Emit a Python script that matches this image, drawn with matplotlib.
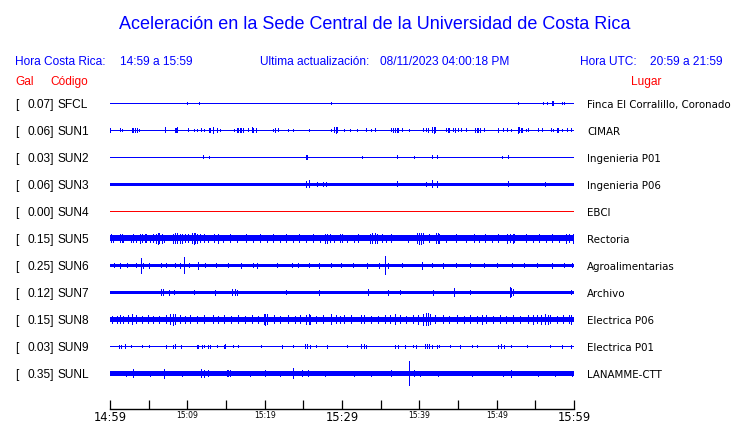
import matplotlib
matplotlib.use("Agg")
import matplotlib.pyplot as plt

# station info (top to bottom)
codes = ["SFCL", "SUN1", "SUN2", "SUN3", "SUN4", "SUN5", "SUN6", "SUN7", "SUN8", "SUN9", "SUNL"]
gal = [0.07, 0.06, 0.03, 0.06, 0.00, 0.15, 0.25, 0.12, 0.15, 0.03, 0.35]
places = ["Finca El Corralillo, Coronado", "CIMAR", "Ingenieria P01", "Ingenieria P06", "EBCI",
          "Rectoria", "Agroalimentarias", "Archivo", "Electrica P06", "Electrica P01", "LANAMME-CTT"]
# background trace half-amplitude (px)
base_amp = [0.5, 0.5, 0.5, 1.5, 0.5, 3.0, 1.4, 1.5, 2.3, 0.5, 1.7]

# (minute after 14:59, half-amplitude px) for visible bursts
sfcl = [(10.0, 1.3), (11.5, 0.8), (28.6, 0.8), (52.8, 0.8), (56.0, 0.8), (56.5, 1), (57.1, 2),
        (57.2, 2.3), (57.3, 2), (58.4, 0.8), (58.7, 1.2)]
sun1 = [(0.0, 2), (1.3, 1.5), (1.5, 1), (2.8, 2), (3.0, 2), (3.2, 2), (3.5, 2), (3.8, 1), (7.1, 2.5),
        (8.4, 2), (8.5, 2), (8.7, 2.5), (10.1, 1.5), (10.9, 1), (11.2, 1), (11.8, 1.5), (12.1, 1),
        (12.8, 2), (12.9, 2), (13.3, 3), (13.9, 2), (14.2, 1), (16.0, 1), (16.4, 2), (16.6, 2),
        (16.8, 2), (17.0, 2), (17.2, 2), (17.8, 1.5), (18.3, 2.5), (18.5, 2), (18.9, 2), (21.1, 1),
        (21.4, 2), (21.7, 1.5), (23.0, 1), (23.7, 1), (25.7, 1), (28.6, 1), (29.0, 2.5), (29.2, 3),
        (29.3, 2.5), (30.2, 1), (31.0, 0.7), (31.9, 0.7), (33.1, 1.5), (33.7, 1), (34.3, 1.5),
        (36.3, 1.5), (36.6, 2), (36.9, 2), (37.1, 2), (37.2, 2), (37.7, 1.5), (38.7, 0.7), (40.5, 1.5),
        (40.8, 1.5), (41.1, 2), (41.7, 2.5), (41.9, 3), (42.0, 2.5), (43.4, 1.5), (43.7, 2), (43.8, 2),
        (44.3, 1.5), (44.6, 2), (45.0, 1.5), (45.4, 1.5), (46.0, 1.5), (47.2, 2), (47.4, 2), (47.6, 2),
        (47.8, 2), (48.3, 1.5), (50.2, 2), (50.8, 1.5), (51.3, 1.5), (51.8, 1), (52.7, 3), (52.9, 2.5),
        (53.2, 2), (53.3, 2), (53.8, 1), (54.1, 1.5), (55.3, 1.5), (55.8, 1.5), (57.0, 1.5), (57.3, 1),
        (57.8, 2), (57.9, 2), (58.5, 1), (59.1, 1.5), (59.6, 1.5)]
sun2 = [(12.0, 1.5), (12.75, 1), (25.3, 2), (25.5, 2), (32.6, 1), (37.15, 1.5), (39.3, 1), (41.6, 1.5),
        (41.7, 1.5), (42.3, 1.5), (50.7, 1), (51.5, 1.5)]
sun3 = [(25.4, 3), (25.7, 3.5), (26.8, 2), (27.6, 2), (27.9, 2), (37.15, 2.5), (40.8, 2), (41.7, 3.5),
        (42.3, 3), (51.5, 2.5), (56.2, 2)]
sun4 = []
sun5 = [(0.1, 4), (0.4, 3.5), (1.3, 4), (1.5, 4), (1.7, 3.5), (2.7, 3.5), (3.0, 4), (3.4, 3.5), (3.9, 4.5),
        (4.2, 4), (4.5, 4), (4.7, 4), (5.2, 3.5), (5.6, 4), (6.0, 4.5), (6.2, 5.5), (6.4, 5), (6.7, 4.5),
        (7.0, 3.5), (8.2, 4.5), (8.4, 5), (8.7, 5), (9.0, 4.5), (9.3, 4.5), (9.7, 4), (10.1, 4), (10.6, 5),
        (10.8, 5.5), (11.0, 5), (11.2, 4.5), (11.6, 4), (12.1, 4), (12.7, 3.5), (13.4, 4), (14.0, 4.5),
        (14.6, 3.5), (15.5, 4), (16.4, 3.5), (17.6, 4), (18.5, 3.5), (19.4, 4), (20.3, 3.5), (21.1, 4),
        (22.0, 3.5), (22.8, 4), (23.7, 3.5), (24.5, 4), (25.4, 3.5), (26.3, 4), (27.1, 3.5), (27.8, 4.5),
        (28.1, 4.5), (28.4, 4), (29.0, 3.5), (29.7, 4), (30.0, 4), (30.6, 3.5), (31.5, 3.5), (32.1, 4),
        (33.6, 4.5), (33.9, 5), (34.3, 5), (34.5, 4.5), (35.2, 4), (35.7, 3.5), (36.3, 4), (38.5, 3.5),
        (39.7, 5), (40.0, 5.5), (40.2, 5.5), (40.5, 5), (41.2, 4), (42.2, 5), (42.4, 5), (42.6, 4.5),
        (43.4, 3.5), (44.7, 4), (46.0, 3.5), (47.1, 4), (47.7, 3.5), (48.5, 4), (49.4, 3.5), (50.2, 4),
        (51.3, 4.5), (51.7, 4), (52.1, 4.5), (52.3, 4), (53.8, 4), (54.7, 3.5), (55.5, 4), (56.4, 3.5),
        (57.2, 4), (58.0, 3.5), (59.0, 4.5), (59.4, 4), (59.9, 4.5)]
sun6 = [(0.5, 2), (1.3, 2.5), (2.2, 2), (3.3, 2), (3.96, 7.5), (4.3, 2.5), (5.1, 2.5), (6.6, 2), (7.3, 2),
        (8.4, 2), (9.1, 2.5), (9.6, 8), (10.2, 2), (11.4, 3.5), (12.3, 2), (13.7, 2), (15.2, 2), (16.9, 2.5),
        (18.5, 2), (19.0, 2.5), (21.6, 2), (23.5, 2), (24.3, 2), (25.7, 2), (27.0, 2.5), (28.6, 2), (29.9, 2),
        (31.4, 2), (33.2, 2.5), (34.8, 2.5), (35.6, 9), (36.0, 2.5), (37.8, 2), (40.3, 3.5), (41.7, 2),
        (43.0, 2.5), (44.8, 2), (46.5, 2), (48.3, 2), (50.1, 2), (52.0, 2), (53.5, 2), (55.2, 2),
        (57.2, 2.5), (58.7, 2), (59.7, 2)]
sun7 = [(6.6, 3), (6.8, 3), (7.6, 2.5), (8.3, 2), (10.9, 2), (13.6, 2.5), (15.8, 3), (16.1, 3), (16.4, 2.5),
        (22.8, 2), (27.0, 2.5), (33.3, 3), (36.0, 2.5), (37.5, 2), (41.8, 2.5), (44.5, 4), (46.5, 2),
        (51.7, 5), (51.9, 4), (52.1, 3), (59.6, 2)]
sun8 = [(0.2, 3.5), (0.9, 3.5), (1.3, 4), (1.7, 3.5), (2.3, 4), (2.9, 5), (3.4, 4), (4.2, 3.5), (4.9, 4),
        (5.5, 3.5), (6.4, 3.5), (7.3, 4), (7.8, 5), (8.1, 5.5), (8.4, 5), (9.0, 4), (9.7, 3.5), (10.4, 4),
        (11.3, 3.5), (12.2, 4), (13.3, 4), (14.0, 3.5), (14.8, 4), (15.7, 3.5), (16.6, 4), (17.5, 3.5),
        (18.3, 4), (19.1, 3.5), (19.9, 5), (20.1, 5.5), (20.3, 5), (21.2, 4), (22.0, 3.5), (23.0, 4),
        (23.9, 3.5), (24.6, 4), (25.4, 4.5), (25.7, 5), (25.9, 4.5), (26.7, 3.5), (27.5, 4), (28.6, 5),
        (29.2, 4), (29.8, 3.5), (30.3, 4), (31.2, 4), (32.5, 4), (32.9, 4), (33.8, 3.5), (34.7, 3.5),
        (35.5, 4), (36.2, 4), (36.8, 5), (37.5, 4), (38.3, 3.5), (39.2, 4), (39.8, 4.5), (40.5, 5.5),
        (40.8, 6), (41.1, 6), (41.4, 5), (42.0, 4), (43.0, 4), (43.9, 3.5), (44.9, 4), (45.8, 3.5),
        (46.6, 4), (47.4, 3.5), (48.1, 4.5), (48.6, 4), (49.5, 3.5), (50.4, 4), (51.2, 3.5), (52.1, 4),
        (53.0, 3.5), (54.0, 4), (54.7, 4.5), (55.2, 4), (55.7, 4.5), (56.2, 5), (56.6, 4.5), (56.9, 4),
        (57.8, 3.5), (58.6, 4), (59.3, 4), (59.6, 4.5)]
sun9 = [(1.1, 1.5), (1.4, 1.5), (1.9, 1.8), (2.0, 1.8), (2.7, 1.2), (4.2, 1.2), (5.1, 1.2), (7.3, 1.5),
        (8.1, 1.5), (8.4, 1.8), (9.2, 1.5), (11.2, 1.5), (11.4, 1.5), (11.9, 1.5), (12.2, 1.2), (12.7, 1.5),
        (12.9, 1.5), (13.9, 1.2), (14.7, 1.5), (14.9, 1.8), (15.9, 1.2), (16.6, 1.2), (19.5, 1.2),
        (22.3, 1.5), (23.6, 1.2), (25.2, 1.8), (25.5, 1.8), (25.8, 1.5), (26.7, 1.2), (28.0, 1.5),
        (30.7, 1.2), (32.5, 1.8), (32.8, 1.8), (33.1, 1.5), (36.9, 1.5), (37.2, 1.5), (38.1, 1.5),
        (39.2, 1.2), (39.6, 1.5), (40.7, 1.8), (41.0, 1.8), (41.3, 1.8), (41.6, 1.5), (42.3, 1.5),
        (42.6, 1.2), (44.0, 1.2), (45.3, 1.5), (46.8, 1.2), (47.4, 1.2), (50.2, 1.5), (50.5, 1.8),
        (50.9, 1.5), (51.8, 1.2), (53.9, 1.2), (56.9, 1.2), (58.4, 1.5), (59.6, 1.5)]
sunl = [(2.1, 2.5), (3.0, 4), (5.2, 2.5), (7.0, 4.5), (9.3, 2.5), (11.8, 4), (12.1, 3.5), (12.7, 3),
        (15.1, 3), (15.3, 3), (15.5, 3), (18.1, 2.5), (20.0, 3), (22.0, 2.5), (23.7, 5), (24.8, 3),
        (25.6, 3), (27.8, 2.5), (31.5, 2.5), (33.7, 2.5), (36.4, 3), (38.6, 12), (39.3, 3), (40.1, 2.5),
        (42.4, 2.5), (46.8, 2.5), (50.8, 2.5), (51.9, 3.5), (55.3, 2.5), (57.5, 2.5), (59.7, 2.5)]
bursts = [sfcl, sun1, sun2, sun3, sun4, sun5, sun6, sun7, sun8, sun9, sunl]

tick_min = list(range(0, 61, 5))
tick_lab = ["14:59", "", "15:09", "", "15:19", "", "15:29", "", "15:39", "", "15:49", "", "15:59"]
big_lab = ["14:59", "15:29", "15:59"]

W, H = 740, 423
BLUE = "#0000ff"
RED = "#ff0000"
HEAD = "Liberation Sans"


def fx(x):
    return x / W


def fy(y):
    return 1 - y / H


fig = plt.figure(figsize=(W / 100, H / 100), dpi=100)
fig.patch.set_facecolor("white")

# trace area: x 110..574 px, y in pixel units (spine at 409)
ax = fig.add_axes([fx(110), fy(409), (574 - 110) / W, (409 - 88) / H])
ax.set_xlim(0, 60)
ax.set_ylim(409, 88)
ax.set_facecolor("none")
for s in ["top", "left", "right"]:
    ax.spines[s].set_visible(False)
ax.spines["bottom"].set_linewidth(1.0)
ax.set_yticks([])
ax.set_xticks(tick_min)
ax.set_xticklabels(tick_lab)
ax.tick_params(axis="x", direction="in", length=6.5, width=0.9, pad=1.5)
for lbl in ax.get_xticklabels():
    lbl.set_family("DejaVu Sans")
    lbl.set_fontsize(8.3 if lbl.get_text() in big_lab else 5.5)

row0, step = 103, 27
px_lw = 0.72  # one pixel in points
for i, code in enumerate(codes):
    yc = row0 + i * step
    col = RED if code == "SUN4" else BLUE
    ax.hlines(yc, 0, 60, color=col, lw=max(2 * base_amp[i], 1) * px_lw, antialiased=False)
    if bursts[i]:
        t = [b[0] for b in bursts[i]]
        a = [b[1] for b in bursts[i]]
        ax.vlines(t, [yc - v for v in a], [yc + v for v in a], color=col, lw=px_lw,
                  antialiased=False)

    fig.text(fx(15), fy(yc + 5.3), "[", fontsize=8.6, family=HEAD, va="baseline")
    fig.text(fx(28), fy(yc + 5.3), f"{gal[i]:.2f}]", fontsize=8.6, family=HEAD, va="baseline")
    fig.text(fx(58), fy(yc + 5.3), code, fontsize=8.6, family=HEAD, va="baseline")
    fig.text(fx(587), fy(yc + 4.7), places[i], fontsize=7.4, family="DejaVu Sans", va="baseline")

# headers
fig.text(fx(375), fy(29), "Aceleración en la Sede Central de la Universidad de Costa Rica",
         fontsize=13.0, family=HEAD, color=BLUE, ha="center", va="baseline")
fig.text(fx(15), fy(65), "Hora Costa Rica:", fontsize=8.6, family=HEAD, color=BLUE, va="baseline")
fig.text(fx(120.5), fy(65), "14:59 a 15:59", fontsize=8.6, family=HEAD, color=BLUE, va="baseline")
fig.text(fx(260), fy(65), "Ultima actualización:", fontsize=8.6, family=HEAD, color=BLUE, va="baseline")
fig.text(fx(380.5), fy(65), "08/11/2023 04:00:18 PM", fontsize=8.6, family=HEAD, color=BLUE, va="baseline")
fig.text(fx(580.5), fy(65), "Hora UTC:", fontsize=8.6, family=HEAD, color=BLUE, va="baseline")
fig.text(fx(650), fy(65), "20:59 a 21:59", fontsize=8.6, family=HEAD, color=BLUE, va="baseline")
fig.text(fx(15), fy(85), "Gal", fontsize=8.6, family=HEAD, color=RED, va="baseline")
fig.text(fx(50.5), fy(85), "Código", fontsize=8.6, family=HEAD, color=RED, va="baseline")
fig.text(fx(630.5), fy(85), "Lugar", fontsize=8.6, family=HEAD, color=RED, va="baseline")

fig.savefig("out.png", dpi=100)
